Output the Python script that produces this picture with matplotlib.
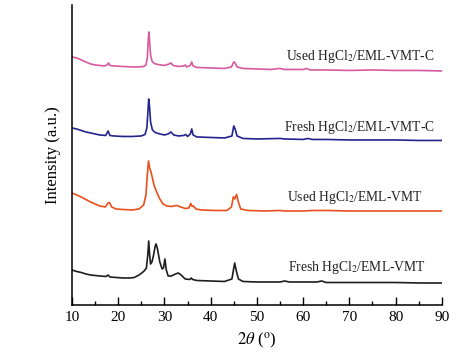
import matplotlib
matplotlib.use('Agg')
import matplotlib.pyplot as plt

plt.rcParams['font.family'] = ['Liberation Serif', 'DejaVu Serif']
plt.rcParams['mathtext.fontset'] = 'stix'

# XRD patterns, stacked (2theta in degrees, intensity in a.u. incl. offset)
tt_fresh = [10, 11, 12, 13, 14, 15, 16, 17.4, 17.8, 18.2, 19.5, 21, 22.5, 23.5, 24.5,
            25.1, 25.6, 26.1, 26.4, 26.6, 26.8, 27.0, 27.3, 27.7, 28.0, 28.2, 28.5,
            29.0, 29.5, 29.8, 30.1, 30.4, 30.8, 31.5, 32.4, 33.0, 33.6, 34.5, 35.5,
            35.8, 36.1, 37, 40, 43, 44.6, 45.0, 45.2, 45.5, 46, 47, 50, 55, 56, 57,
            60, 63, 64, 65, 70, 75, 80, 85, 90]
i_fresh = [35, 33.5, 32.5, 31, 30, 29.5, 29, 28.5, 30, 28, 27.5, 27, 27, 27.5, 30,
           32, 34, 37, 50, 64, 50, 41, 43, 51, 59, 61, 56,
           43, 36, 37, 46, 35, 29, 29, 31, 32, 30, 26, 25.5,
           27, 25.5, 24.5, 24, 23.5, 26, 37, 42, 35, 26, 23.5, 23, 23, 24, 23,
           23, 23, 24, 22.5, 22.5, 22.5, 22.5, 22, 22]

tt_used = [10, 11, 12, 13, 14, 15, 16, 17.2, 17.8, 18.1, 18.6, 19.5, 21, 23, 24.5,
           25.5, 26.0, 26.3, 26.55, 26.8, 27.1, 27.4, 27.8, 28.4, 29, 29.7, 30.5,
           31.5, 32.7, 33.5, 34.5, 35.3, 35.7, 36.0, 36.3, 36.8, 38, 41, 43.5, 44.5,
           44.9, 45.2, 45.6, 46, 46.5, 48, 52, 55, 56, 60, 62, 65, 70, 75, 80, 85, 90]
i_used = [112, 110, 108, 105.5, 103, 101, 99, 98, 102, 102.5, 98, 96, 95.5, 95, 96,
          100, 110, 130, 144, 137, 133, 127, 119, 112, 106, 101, 99,
          98.5, 99.5, 98, 96.5, 97, 101.5, 98.5, 99, 96, 95, 94.5, 94.5, 98,
          108, 106, 110.5, 103, 96, 94.5, 94, 94.5, 94, 94, 94.5, 94.5, 94, 94, 94, 94, 94]

tt_fresh_c = [10, 11, 12, 13, 14, 15, 16, 17.3, 17.8, 18.2, 19, 21, 23, 25, 25.8,
              26.2, 26.45, 26.6, 26.8, 27.0, 27.4, 28, 29, 30, 30.8, 31.4, 32, 33,
              34.2, 34.6, 35, 35.6, 35.9, 36.2, 37, 40, 43, 44.6, 45.0, 45.3, 45.7,
              47, 50, 55, 56, 60, 61, 62, 65, 70, 75, 80, 85, 90]
i_fresh_c = [177, 176, 174.5, 173, 172, 171, 170, 169.5, 174, 169.5, 169, 168.5, 168.5, 169, 170.5,
             177, 195, 206, 197, 183, 175, 172.5, 171, 170, 171, 173, 170, 169,
             169.5, 170.5, 168.5, 171, 176, 170, 168, 167.5, 167, 169, 179, 176, 169,
             166.5, 166, 166.5, 166, 165.5, 166.5, 165.5, 165.5, 165, 165, 165, 164.5, 164.5]

tt_used_c = [10, 11, 12, 13, 14, 15, 16, 17, 17.6, 17.9, 18.2, 19, 21, 23, 24.5,
             25.5, 26.0, 26.3, 26.5, 26.65, 26.8, 27.0, 27.3, 27.8, 28.5, 30, 31,
             31.4, 31.9, 33, 34.2, 34.5, 34.8, 35.6, 35.9, 36.2, 37, 40, 43, 44.5,
             45.0, 45.3, 45.7, 47, 50, 53, 55, 56, 60, 60.8, 61.5, 65, 70, 75, 80, 85, 90]
i_used_c = [248, 247, 245, 243, 241, 240, 239.5, 239, 240, 242, 239.5, 239, 238.5, 238, 238,
            238.5, 240, 247, 265, 273, 263, 250, 244, 241.5, 240.5, 239.5, 241,
            242, 239.5, 238.5, 239, 240, 238, 239.5, 243, 239, 237.5, 237, 236.5, 238,
            243, 242, 238, 236.5, 236, 235.5, 236.5, 235.5, 235.5, 236.5, 235, 235, 234.5, 235, 234.5, 234.5, 234]

labels = ['Fresh HgCl$_2$/EML-VMT', 'Used HgCl$_2$/EML-VMT',
          'Fresh HgCl$_2$/EML-VMT-C', 'Used HgCl$_2$/EML-VMT-C']
colors = ['#1e1e1e', '#e8501c', '#23238c', '#d65a9e']
label_pos = [(71.6, 37), (71.2, 107), (72.2, 177), (72.3, 248)]


def plot():
    fig = plt.figure(figsize=(4.72, 3.53), dpi=100)
    ax = fig.add_axes([0.1525, 0.136, 0.7835, 0.85])

    series = [(tt_fresh, i_fresh), (tt_used, i_used),
              (tt_fresh_c, i_fresh_c), (tt_used_c, i_used_c)]
    for (tt, inten), c, lab, (lx, ly) in zip(series, colors, labels, label_pos):
        ax.plot(tt, inten, color=c, linewidth=1.2)
        ax.text(lx, ly, lab, ha='center', va='center', fontsize=9.8, color='#222222')

    ax.set_xlim(10, 90)
    ax.set_ylim(0, 300)
    ax.set_xticks(range(10, 91, 10))
    ax.set_xticks(range(15, 90, 10), minor=True)
    ax.set_yticks([])
    ax.tick_params(axis='x', which='major', direction='in', length=6, width=1,
                   labelsize=11, pad=4)
    ax.tick_params(axis='x', which='minor', direction='in', length=3, width=1)
    for side in ['top', 'right']:
        ax.spines[side].set_visible(False)
    for side in ['left', 'bottom']:
        ax.spines[side].set_linewidth(1.1)

    ax.set_xlabel(r'$2\theta$ ($^{\rm o}$)', fontsize=12, labelpad=5)
    ax.set_ylabel('Intensity (a.u.)', fontsize=12, labelpad=8)

    fig.savefig('out.png', dpi=100, facecolor='white')
    plt.close(fig)


if __name__ == '__main__':
    plot()
